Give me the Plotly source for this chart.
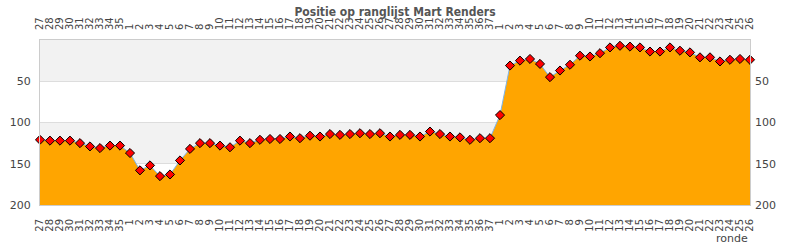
import plotly.graph_objects as go

rounds = [str(r) for r in range(27, 36)] + [str(r) for r in range(1, 38)] + [str(r) for r in range(1, 27)]
positions = [
    121, 122, 122, 122, 125, 129, 131, 128, 128, 137,
    158, 152, 165, 163, 146, 132, 125, 125, 128, 130,
    122, 125, 121, 120, 120, 117, 119, 116, 117, 114,
    115, 114, 113, 114, 113, 117, 115, 115, 117, 111,
    114, 117, 118, 121, 119, 119, 91, 31, 25, 23,
    29, 45, 37, 30, 19, 20, 16, 9, 7, 8,
    9, 14, 14, 9, 13, 15, 21, 21, 26, 24,
    23, 24,
]
y_ticks = [50, 100, 150, 200]
title_text = "Positie op ranglijst Mart Renders"
x_title = "ronde"

idx = list(range(len(rounds)))
y_bottom = 200

fig = go.Figure()
fig.add_trace(go.Scatter(x=idx, y=[y_bottom] * len(idx), mode="lines",
                         line=dict(width=0, color="rgba(0,0,0,0)"),
                         hoverinfo="skip", showlegend=False))
fig.add_trace(go.Scatter(x=idx, y=positions, mode="lines+markers",
                         fill="tonexty", fillcolor="#FFA500",
                         line=dict(color="#7cb5ec", width=1),
                         marker=dict(symbol="diamond", size=7, color="#ff0000",
                                     line=dict(color="#000000", width=1)),
                         cliponaxis=False, showlegend=False))
fig.add_trace(go.Scatter(x=idx, y=positions, xaxis="x2", yaxis="y2", mode="markers",
                         marker=dict(opacity=0), hoverinfo="skip", showlegend=False))

shapes = []
for y0, y1 in [(0, 50), (100, 150)]:
    shapes.append(dict(type="rect", xref="paper", yref="y", x0=0, x1=1, y0=y0, y1=y1,
                       fillcolor="#f2f2f2", line=dict(width=0), layer="below"))

tick_font = dict(family="DejaVu Sans", size=10, color="#444444")
common_x = dict(range=[0, len(idx) - 1], tickmode="array", tickvals=idx, ticktext=rounds,
                tickangle=-90, tickfont=tick_font, showgrid=False, zeroline=False,
                ticks="", ticklabelstandoff=9)
common_y = dict(range=[200, 0], tickmode="array", tickvals=y_ticks,
                tickfont=dict(family="DejaVu Sans", size=11, color="#444444"),
                zeroline=False, ticks="")

fig.update_layout(
    width=790, height=250,
    margin=dict(l=40, r=40, t=40, b=45, autoexpand=False),
    paper_bgcolor="white", plot_bgcolor="white",
    title=dict(text="<b>" + title_text + "</b>", x=0.5, xanchor="center", y=1 - 12 / 250,
               yanchor="middle",
               font=dict(family="DejaVu Sans Condensed, DejaVu Sans", size=12, color="#555555")),
    xaxis=dict(**common_x, side="bottom", showline=True, linecolor="#cccccc", mirror=True),
    xaxis2=dict(**common_x, side="top", overlaying="x", anchor="y"),
    yaxis=dict(**common_y, side="left", showgrid=True, gridcolor="#dddddd",
               showline=True, linecolor="#cccccc", mirror=True, ticklabelstandoff=6),
    yaxis2=dict(**common_y, side="right", overlaying="y", anchor="x", showgrid=False,
                ticklabelstandoff=4),
    shapes=shapes,
    annotations=[dict(text=x_title, xref="paper", yref="paper", x=1, y=-33 / 165,
                      xanchor="right", yanchor="middle", showarrow=False,
                      font=dict(family="DejaVu Sans", size=11, color="#444444"))],
)

fig.write_html("out.html")
